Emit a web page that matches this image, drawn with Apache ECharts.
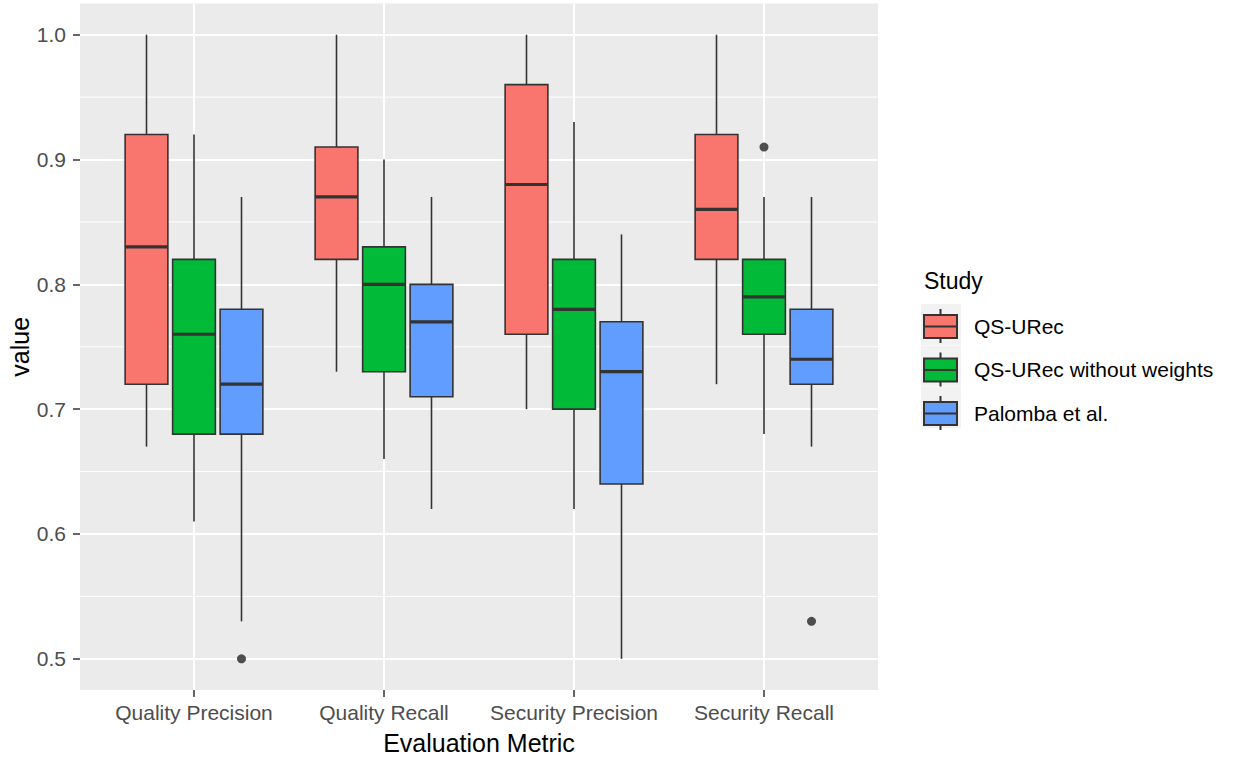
<!DOCTYPE html>
<html>
<head>
<meta charset="utf-8">
<title>Evaluation metrics by study</title>
<script src="https://cdn.jsdelivr.net/npm/echarts@6/dist/echarts.min.js"></script>
<style>
  html, body { margin: 0; padding: 0; background: #ffffff; }
  #chart { width: 1236px; height: 759px; }
</style>
</head>
<body>
<div id="chart"></div>
<script>
// Categories along the x axis
const metrics = ['Quality Precision', 'Quality Recall', 'Security Precision', 'Security Recall'];
// Studies (fill groups)
const studies = ['QS-URec', 'QS-URec without weights', 'Palomba et al.'];
const studyColors = ['#F8766D', '#00BA38', '#619CFF'];

// Box statistics per metric: [lower whisker, Q1, median, Q3, upper whisker]
const qsUrec = [
  [0.67, 0.72, 0.83, 0.92, 1.00],
  [0.73, 0.82, 0.87, 0.91, 1.00],
  [0.70, 0.76, 0.88, 0.96, 1.00],
  [0.72, 0.82, 0.86, 0.92, 1.00]
];
const qsUrecNoWeights = [
  [0.61, 0.68, 0.76, 0.82, 0.92],
  [0.66, 0.73, 0.80, 0.83, 0.90],
  [0.62, 0.70, 0.78, 0.82, 0.93],
  [0.68, 0.76, 0.79, 0.82, 0.87]
];
const palomba = [
  [0.53, 0.68, 0.72, 0.78, 0.87],
  [0.62, 0.71, 0.77, 0.80, 0.87],
  [0.50, 0.64, 0.73, 0.77, 0.84],
  [0.67, 0.72, 0.74, 0.78, 0.87]
];

// Outliers: [metric index, value]
const qsUrecOutliers = [];
const qsUrecNoWeightsOutliers = [[3, 0.91]];
const palombaOutliers = [[0, 0.50], [3, 0.53]];

// Axis breaks
const yBreaks = [0.5, 0.6, 0.7, 0.8, 0.9, 1.0];
const yMinorBreaks = [0.55, 0.65, 0.75, 0.85, 0.95];

const boxStats = [qsUrec, qsUrecNoWeights, palomba];
const outlierSets = [qsUrecOutliers, qsUrecNoWeightsOutliers, palombaOutliers];

// Dodge layout (in x-axis units): group width 0.75, each box 0.225 wide
const dodgeOffsets = [-0.25, 0, 0.25];
const boxWidth = 0.225;
const lineColor = '#333333';
const fontFamily = '"Liberation Sans", Arial, Helvetica, sans-serif';

function boxRenderer(offset, color) {
  return function (params, api) {
    const cx = api.value(0) + 1 + offset;
    const pLow = api.coord([cx, api.value(1)]);
    const pQ1 = api.coord([cx, api.value(2)]);
    const pMed = api.coord([cx, api.value(3)]);
    const pQ3 = api.coord([cx, api.value(4)]);
    const pUp = api.coord([cx, api.value(5)]);
    const hw = api.size([boxWidth, 0])[0] / 2;
    const x = pMed[0];
    return {
      type: 'group',
      children: [
        { type: 'line', shape: { x1: x, y1: pUp[1], x2: x, y2: pQ3[1] },
          style: { stroke: lineColor, lineWidth: 1.6 } },
        { type: 'line', shape: { x1: x, y1: pQ1[1], x2: x, y2: pLow[1] },
          style: { stroke: lineColor, lineWidth: 1.6 } },
        { type: 'rect', shape: { x: x - hw, y: pQ3[1], width: hw * 2, height: pQ1[1] - pQ3[1] },
          style: { fill: color, stroke: lineColor, lineWidth: 1.6 } },
        { type: 'line', shape: { x1: x - hw, y1: pMed[1], x2: x + hw, y2: pMed[1] },
          style: { stroke: lineColor, lineWidth: 3.2 } }
      ]
    };
  };
}

const series = [];

// Minor horizontal grid lines
series.push({
  type: 'custom',
  name: 'minor-grid',
  silent: true,
  z: 1,
  data: yMinorBreaks.map(v => [0.4, v]),
  encode: { x: 0, y: 1 },
  renderItem: function (params, api) {
    const cs = params.coordSys;
    const y = api.coord([0.4, api.value(1)])[1];
    return { type: 'line', shape: { x1: cs.x, y1: y, x2: cs.x + cs.width, y2: y },
      style: { stroke: '#ffffff', lineWidth: 1 } };
  }
});

studies.forEach((name, s) => {
  series.push({
    type: 'custom',
    name: name,
    z: 3,
    silent: true,
    itemStyle: { color: studyColors[s] },
    data: boxStats[s].map((b, i) => [i].concat(b)),
    encode: { x: 0, y: [1, 2, 3, 4, 5] },
    renderItem: boxRenderer(dodgeOffsets[s], studyColors[s])
  });
  series.push({
    type: 'scatter',
    name: name + ' outliers',
    z: 4,
    silent: true,
    symbolSize: 9,
    itemStyle: { color: '#262626' },
    data: outlierSets[s].map(o => [o[0] + 1 + dodgeOffsets[s], o[1]])
  });
});

const legendIcon = 'path://M0,6L33,6L33,29L0,29Z M0,17.5L33,17.5 M16.5,0L16.5,6 M16.5,29L16.5,34';

const keyBackgrounds = studies.map((n, i) => ({
  type: 'rect',
  z: -1,
  shape: { x: 921, y: 304 + i * 41.5, width: 40, height: 41 },
  style: { fill: '#F2F2F2' }
}));

const chart = echarts.init(document.getElementById('chart'), null, { renderer: 'svg' });
chart.setOption({
  animation: false,
  backgroundColor: '#ffffff',
  textStyle: { fontFamily: fontFamily },
  title: {
    text: 'Study',
    left: 919,
    top: 264,
    textStyle: { fontSize: 23, fontWeight: 'normal', color: '#000000', fontFamily: fontFamily }
  },
  legend: {
    orient: 'vertical',
    left: 923,
    top: 308,
    padding: 0,
    itemWidth: 33,
    itemHeight: 34,
    itemGap: 7.5,
    icon: legendIcon,
    selectedMode: false,
    data: studies,
    itemStyle: { borderColor: lineColor, borderWidth: 2 },
    textStyle: { fontSize: 21, color: '#000000', fontFamily: fontFamily, padding: [0, 0, 0, 12] }
  },
  graphic: keyBackgrounds,
  grid: {
    left: 80, right: 358, top: 3.5, bottom: 69,
    outerBoundsMode: 'none',
    containLabel: false,
    show: true, backgroundColor: '#EBEBEB', borderWidth: 0
  },
  xAxis: {
    type: 'value',
    min: 0.4,
    max: 4.6,
    name: 'Evaluation Metric',
    nameLocation: 'middle',
    nameGap: 40,
    nameMoveOverlap: false,
    nameTextStyle: { fontSize: 25, color: '#000000', fontFamily: fontFamily },
    axisLine: { show: false },
    axisTick: { show: true, length: 7, customValues: [1, 2, 3, 4],
      lineStyle: { color: lineColor, width: 1.5 } },
    axisLabel: { customValues: [1, 2, 3, 4], margin: 12, fontSize: 21, color: '#4D4D4D',
      fontFamily: fontFamily,
      formatter: v => metrics[Math.round(v) - 1] },
    splitLine: { show: true, lineStyle: { color: '#ffffff', width: 2 } }
  },
  yAxis: {
    type: 'value',
    min: 0.475,
    max: 1.025,
    name: 'value',
    nameLocation: 'middle',
    nameGap: 48,
    nameMoveOverlap: false,
    nameTextStyle: { fontSize: 25, color: '#000000', fontFamily: fontFamily },
    axisLine: { show: false },
    axisTick: { show: true, length: 7, customValues: yBreaks,
      lineStyle: { color: lineColor, width: 1.5 } },
    axisLabel: { customValues: yBreaks, margin: 14, fontSize: 21, color: '#4D4D4D',
      fontFamily: fontFamily,
      formatter: v => v.toFixed(1) },
    splitLine: { show: true, lineStyle: { color: '#ffffff', width: 2 } }
  },
  series: series
});
</script>
</body>
</html>
